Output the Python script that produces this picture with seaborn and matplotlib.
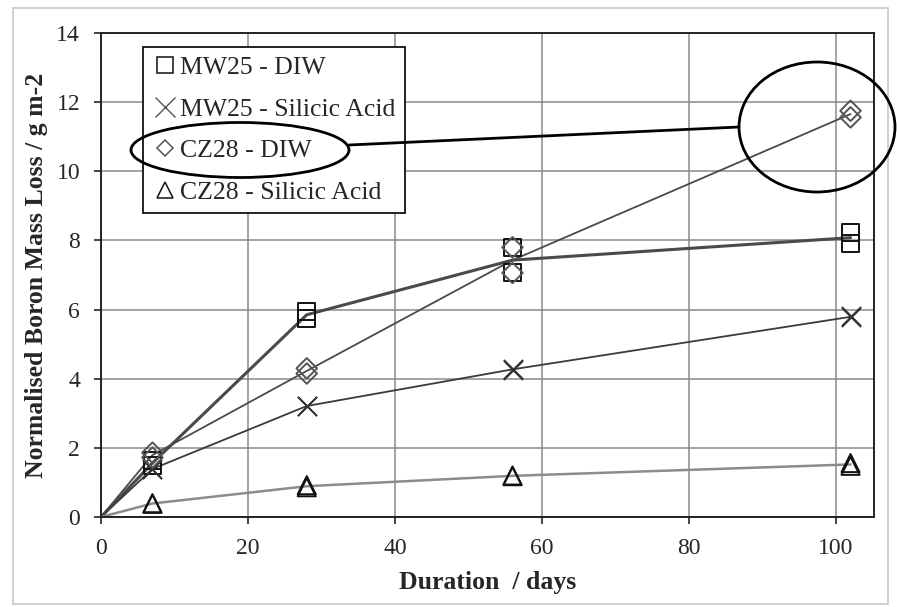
import numpy as np
import pandas as pd
import matplotlib
matplotlib.use('Agg')
import matplotlib.pyplot as plt
from matplotlib.lines import Line2D
from matplotlib.patches import Ellipse, Rectangle
import seaborn as sns

# sampling days and the two replicate measurements per series
days = [0, 7, 28, 56, 102]
series = ['MW25 - DIW', 'MW25 - Silicic Acid', 'CZ28 - DIW', 'CZ28 - Silicic Acid']
rep_a = {
    'MW25 - DIW': [0, 1.62, 5.95, 7.80, 8.24],
    'MW25 - Silicic Acid': [0, 1.40, 3.22, 4.28, 5.80],
    'CZ28 - DIW': [0, 1.86, 4.30, 7.80, 11.75],
    'CZ28 - Silicic Acid': [0, 0.40, 0.92, 1.20, 1.56],
}
rep_b = {
    'MW25 - DIW': [0, 1.50, 5.75, 7.06, 7.92],
    'MW25 - Silicic Acid': [0, 1.38, 3.20, 4.26, 5.78],
    'CZ28 - DIW': [0, 1.72, 4.15, 7.06, 11.56],
    'CZ28 - Silicic Acid': [0, 0.38, 0.86, 1.18, 1.48],
}

rows = []
for s in series:
    for rep in (rep_a, rep_b):
        for d, v in zip(days, rep[s]):
            rows.append({'series': s, 'day': d, 'loss': v})
df = pd.DataFrame(rows)

sns.set_theme(style='white')
plt.rcParams['font.family'] = ['Liberation Serif', 'DejaVu Serif']

markers = {'MW25 - DIW': 's', 'MW25 - Silicic Acid': 'x', 'CZ28 - DIW': 'D', 'CZ28 - Silicic Acid': '^'}
sizes = {'MW25 - DIW': 150, 'MW25 - Silicic Acid': 190, 'CZ28 - DIW': 110, 'CZ28 - Silicic Acid': 170}
edge = {'MW25 - DIW': '#111111', 'MW25 - Silicic Acid': '#333333', 'CZ28 - DIW': '#555555', 'CZ28 - Silicic Acid': '#111111'}
line_col = {'MW25 - DIW': '#4a4a4a', 'MW25 - Silicic Acid': '#3a3a3a', 'CZ28 - DIW': '#4a4a4a', 'CZ28 - Silicic Acid': '#8c8c8c'}
line_w = {'MW25 - DIW': 2.2, 'MW25 - Silicic Acid': 1.3, 'CZ28 - DIW': 1.3, 'CZ28 - Silicic Acid': 1.8}

fig = plt.figure(figsize=(8.97, 6.07), dpi=100)
ax = fig.add_axes([0.1126, 0.1483, 0.8618, 0.7973])

for s in series:
    sub = df[df['series'] == s]
    pts = sub[sub['day'] > 0]  # no marker at the origin
    sns.lineplot(data=sub, x='day', y='loss', estimator='mean', errorbar=None,
                 color=line_col[s], linewidth=line_w[s], ax=ax, zorder=2)
    if markers[s] == 'x':
        sns.scatterplot(data=pts, x='day', y='loss', marker='x', s=sizes[s],
                        color=edge[s], linewidth=1.3, ax=ax, zorder=3, legend=False)
    else:
        sns.scatterplot(data=pts, x='day', y='loss', marker=markers[s], s=sizes[s],
                        facecolor='none', edgecolor=edge[s], linewidth=1.4, ax=ax,
                        zorder=3, legend=False)

ax.set_xlim(0, 105.2)
ax.set_ylim(0, 14)
ax.set_xticks(range(0, 101, 20))
ax.set_yticks(range(0, 15, 2))
ax.grid(True, color='#8a8a8a', linewidth=1.1)
ax.set_axisbelow(True)
for sp in ax.spines.values():
    sp.set_color('#222222')
    sp.set_linewidth(1.4)
ax.tick_params(axis='both', direction='out', length=5, width=1.2, color='#222222',
               labelsize=17, pad=10, bottom=True, left=True)
ax.set_xlabel('Duration  / days', fontsize=18.5, fontweight='bold', labelpad=9)
ax.set_ylabel('Normalised Boron Mass Loss / g m-2', fontsize=18.5, fontweight='bold', labelpad=6)

handles = []
for s in series:
    if markers[s] == 'x':
        h = Line2D([], [], linestyle='none', marker='x', markersize=14,
                   markeredgecolor='#555555', markeredgewidth=1.0)
    else:
        h = Line2D([], [], linestyle='none', marker=markers[s],
                   markersize={'s': 12, 'D': 8.5, '^': 12}[markers[s]],
                   markerfacecolor='none', markeredgecolor=edge[s], markeredgewidth=1.1)
    handles.append(h)
leg = ax.legend(handles, series, loc='upper left', bbox_to_anchor=(0.054, 0.971),
                borderaxespad=0, fontsize=18.5, frameon=True, fancybox=False,
                handlelength=1.0, handletextpad=0.1, labelspacing=0.72,
                borderpad=0.36, facecolor='white', framealpha=1)
leg.get_frame().set_edgecolor('#111111')
leg.get_frame().set_linewidth(1.3)

# annotation: circle the CZ28 - DIW legend entry and the final point
W, H = 897, 607
def fx(px):
    return px / W
def fy(py):
    return 1 - py / H

e1 = Ellipse((fx(240), fy(150)), 218 / W, 55 / H, transform=fig.transFigure,
             fill=False, edgecolor='black', linewidth=2, zorder=10)
e2 = Ellipse((fx(817), fy(127)), 156 / W, 130 / H, transform=fig.transFigure,
             fill=False, edgecolor='black', linewidth=2, zorder=10)
fig.patches.extend([e1, e2])
fig.lines.append(Line2D([fx(349), fx(739)], [fy(145), fy(127)], transform=fig.transFigure,
                        color='black', linewidth=2, zorder=10))
fig.patches.append(Rectangle((fx(13), fy(604)), (888 - 13) / W, (604 - 8) / H,
                             transform=fig.transFigure, fill=False,
                             edgecolor='#c8c8c8', linewidth=1.2))

fig.savefig('out.png', dpi=100)
